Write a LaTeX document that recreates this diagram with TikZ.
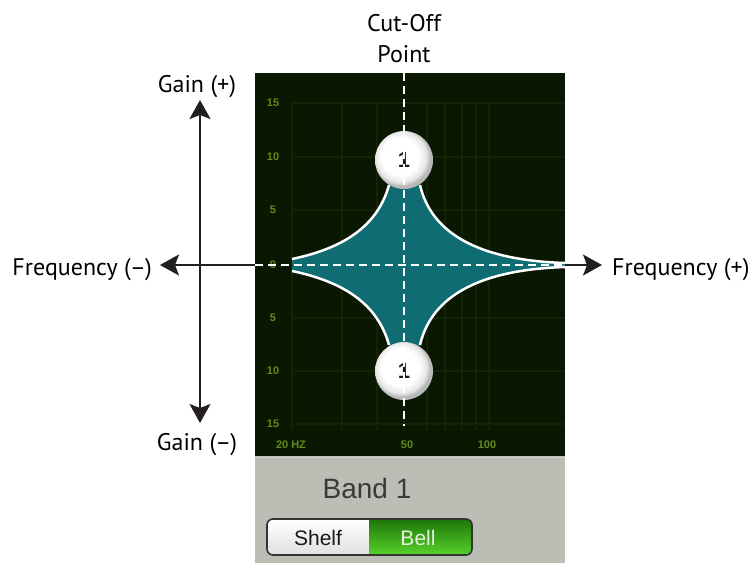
\documentclass[tikz,border=0pt]{standalone}
\usepackage{fontspec}
\setmainfont{PT Sans}
\newfontfamily\hel{Liberation Sans}
\usetikzlibrary{arrows.meta}
\definecolor{panelbg}{RGB}{10,24,2}
\definecolor{gridc}{RGB}{19,36,6}
\definecolor{tickc}{RGB}{100,138,28}
\definecolor{tealc}{RGB}{14,108,114}
\definecolor{greyarea}{RGB}{186,190,180}
\definecolor{arrowc}{RGB}{35,31,32}
\definecolor{bandc}{RGB}{58,58,58}
\definecolor{bellc}{RGB}{228,242,218}
\definecolor{greendark}{RGB}{30,118,10}
\definecolor{greenlight}{RGB}{88,210,42}
\pgfdeclareradialshading{ballsh}{\pgfpoint{-5bp}{5bp}}{color(0bp)=(white); color(16bp)=(white); color(22bp)=(black!10); color(25bp)=(black!28); color(50bp)=(black!28)}
\begin{document}
\begin{tikzpicture}[x=1pt,y=-1pt,
  lab/.style={font=\fontsize{24}{31}\selectfont, text=black, inner sep=0pt},
  tick/.style={font=\hel\bfseries\fontsize{11}{12}\selectfont, text=tickc, inner sep=0pt},
  axisarrow/.style={draw=arrowc, line width=2pt, -{Stealth[length=19pt,width=21pt,inset=4pt]}},
  gridline/.style={draw=gridc, line width=1.2pt},
  cutline/.style={draw=white, line width=2pt, dash pattern=on 8pt off 5pt},
  curveline/.style={draw=white, line width=2.5pt},
  ballst/.style={circle, minimum size=58pt, inner sep=0pt, shading=ballsh, text=black!90, font=\hel\bfseries\fontsize{22}{23}\selectfont},
  uitext/.style={font=\hel\fontsize{21}{24}\selectfont, inner sep=0pt}
]
\useasboundingbox (0,0) rectangle (756,563);
% panel
\fill[panelbg] (255,73) rectangle (565,456);
\fill[greyarea] (255,456) rectangle (565,563);
\draw[draw=greyarea!70!white, line width=1pt] (255,457) -- (565,457);
% grid
\foreach \gx in {292,342,377,404,427,445,462,476,489}
  \draw[gridline] (\gx,103) -- (\gx,430);
\foreach \gy in {103,157,210,265,318,371,424}
  \draw[gridline] (292,\gy) -- (565,\gy);
% ticks
\foreach \ty/\tl in {103/15,157/10,210/5,265/0,318/5,371/10,424/15}
  \node[tick] at (273,\ty) {\tl};
\node[tick] (t20) at (291,445) {20 HZ};
\node[tick] (t50) at (407,445) {50};
\node[tick] (t100) at (487,445) {100};
% teal shape
\fill[tealc] (292,259) .. controls (345,248) and (378,225) .. (389,185) -- (404,175) -- (420,185)
  .. controls (430,228) and (470,260) .. (565,263) -- (565,267)
  .. controls (470,270) and (430,302) .. (420,345) -- (404,355) -- (389,345)
  .. controls (378,305) and (345,282) .. (292,271) -- cycle;
\draw[curveline] (292,259) .. controls (345,248) and (378,225) .. (389,185);
\draw[curveline] (420,185) .. controls (430,228) and (470,260) .. (565,263);
\draw[curveline] (565,267) .. controls (470,270) and (430,302) .. (420,345);
\draw[curveline] (389,345) .. controls (378,305) and (345,282) .. (292,271);
% balls
\node[ballst] (topball) at (404,160) {1};
\node[ballst] (botball) at (404,371) {1};
% cut lines
\coordinate (pl) at (255,265);
\coordinate (pr) at (565,265);
\coordinate (ptop) at (404,73);
\coordinate (pbot) at (404,426);
\draw[cutline] (pl) -- (pr);
\draw[cutline] (ptop) -- (pbot);
% labels
\node[lab, anchor=base east] (fm) at (152,275) {Frequency (–)};
\node[lab, anchor=base west] (fp) at (612,275) {Frequency (+)};
\node[lab, anchor=base] (gp) at (197,92) {Gain (+)};
\node[lab, anchor=base] (gm) at (197,450) {Gain (–)};
\node[lab, align=center] (cut) at (404,38.5) {Cut-Off\\Point};
% arrows
\coordinate (gtop) at (200,100);
\coordinate (gbot) at (200,423);
\coordinate (fleft) at (160,265);
\coordinate (fright) at (602,265);
\draw[axisarrow, {Stealth[length=19pt,width=21pt,inset=4pt]}-{Stealth[length=19pt,width=21pt,inset=4pt]}] (gbot) -- (gtop);
\draw[axisarrow] (pl) -- (fleft);
\draw[axisarrow] (pr) -- (fright);
% band label
\node[uitext, anchor=base, text=bandc, font=\hel\fontsize{28}{30}\selectfont] (band) at (367,498) {Band 1};
% switch
\begin{scope}
  \clip[rounded corners=6pt] (267,519) rectangle (472,555);
  \shade[top color=white, bottom color=black!12] (267,519) rectangle (369,555);
  \shade[top color=greendark, bottom color=greenlight] (369,519) rectangle (472,555);
\end{scope}
\draw[draw=black!80, line width=1.6pt, rounded corners=6pt] (267,519) rectangle (472,555);
\node[uitext, anchor=base, text=black!90] (shelf) at (318,545) {Shelf};
\node[uitext, anchor=base, text=bellc] (bell) at (418,545) {Bell};
\end{tikzpicture}
\end{document}
